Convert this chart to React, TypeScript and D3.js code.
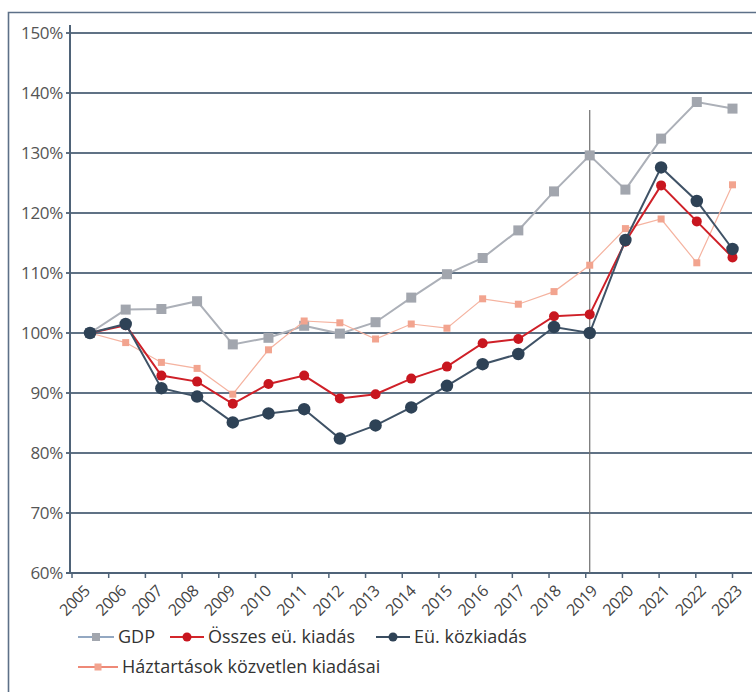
import React from "react";
import * as d3 from "d3";

const years = [2005, 2006, 2007, 2008, 2009, 2010, 2011, 2012, 2013, 2014, 2015, 2016, 2017, 2018, 2019, 2020, 2021, 2022, 2023];
const gdp = [100, 103.9, 104.0, 105.3, 98.1, 99.2, 101.2, 99.9, 101.8, 105.9, 109.8, 112.5, 117.1, 123.6, 129.6, 123.9, 132.4, 138.5, 137.4];
const osszes = [100, 101.3, 92.9, 91.9, 88.2, 91.5, 92.9, 89.1, 89.8, 92.4, 94.4, 98.3, 99.0, 102.8, 103.1, 115.2, 124.6, 118.6, 112.6];
const kozkiadas = [100, 101.5, 90.8, 89.4, 85.1, 86.6, 87.3, 82.4, 84.6, 87.6, 91.2, 94.8, 96.5, 101.0, 100.0, 115.5, 127.6, 122.0, 114.0];
const haztartasok = [100, 98.4, 95.1, 94.1, 89.8, 97.2, 102.0, 101.7, 99.0, 101.5, 100.8, 105.7, 104.8, 106.9, 111.3, 117.4, 119.0, 111.7, 124.7];
const yTicks = [60, 70, 80, 90, 100, 110, 120, 130, 140, 150];
const markerYear = 2019;

const FONT = "'Open Sans', sans-serif";
const AXIS = "#4f6378";

type Series = {
  name: string;
  values: number[];
  line: string;
  width: number;
  marker: "square" | "circle";
  fill: string;
  size: number;
  legendLine: string;
};

const series: Series[] = [
  { name: "GDP", values: gdp, line: "#acb0b8", width: 2, marker: "square", fill: "#a2a6ae", size: 10, legendLine: "#93a8c2" },
  { name: "Háztartások közvetlen kiadásai", values: haztartasok, line: "#f5b3a0", width: 1.2, marker: "square", fill: "#f2a48f", size: 7, legendLine: "#e8624a" },
  { name: "Összes eü. kiadás", values: osszes, line: "#cf2028", width: 2, marker: "circle", fill: "#c8161f", size: 10, legendLine: "#d4262b" },
  { name: "Eü. közkiadás", values: kozkiadas, line: "#3f5266", width: 2, marker: "circle", fill: "#2e4256", size: 12.5, legendLine: "#3a4d61" },
];

export default function App() {
  const W = 756;
  const H = 692;
  const x = d3.scalePoint<number>().domain(years).range([90, 732.5]);
  const xTick = d3.scalePoint<number>().domain(years).range([72, 732.5]);
  const xLabel = d3.scalePoint<number>().domain(years).range([88, 740]);
  const y = d3.scaleLinear().domain([60, 150]).range([573, 33]);
  const axisY = y(60);

  const line = (vals: number[]) =>
    d3
      .line<number>()
      .x((_, i) => x(years[i]) as number)
      .y((v) => y(v))(vals) as string;

  const marker = (s: Series, cx: number, cy: number, key: string | number) =>
    s.marker === "square" ? (
      <rect key={key} x={cx - s.size / 2} y={cy - s.size / 2} width={s.size} height={s.size} fill={s.fill} />
    ) : (
      <circle key={key} cx={cx} cy={cy} r={s.size / 2} fill={s.fill} />
    );

  const legendItems = [
    { s: series[0], lx: 78, ly: 637, tx: 118 },
    { s: series[2], lx: 170, ly: 637, tx: 208 },
    { s: series[3], lx: 376, ly: 637, tx: 414 },
    { s: series[1], lx: 78, ly: 667, tx: 122 },
  ];

  return (
    <svg width={W} height={H} style={{ display: "block", position: "absolute", left: 0, top: 0 }}>
      <rect x={0} y={0} width={W} height={H} fill="#fff" />
      {/* frame */}
      <path d={`M8.5,${H} V12.5 H${W}`} fill="none" stroke="#5d7088" strokeWidth={1.6} />

      {/* horizontal grid */}
      {yTicks.map((t) => (
        <g key={t}>
          <line x1={66} x2={752} y1={y(t)} y2={y(t)} stroke={AXIS} strokeWidth={t === 60 ? 2 : 1.8} opacity={t === 60 ? 1 : 0.9} />
          <text x={63} y={y(t)} dy="0.36em" textAnchor="end" fontFamily={FONT} fontSize={17} fill="#555" letterSpacing={-0.3}>
            {t}%
          </text>
        </g>
      ))}
      {/* y axis */}
      <line x1={70} x2={70} y1={25} y2={axisY} stroke={AXIS} strokeWidth={2} />

      {/* x ticks and labels */}
      {years.map((yr) => (
        <g key={yr}>
          <line x1={xTick(yr)} x2={xTick(yr)} y1={axisY} y2={axisY + 5} stroke={AXIS} strokeWidth={1.5} />
          <text
            transform={`translate(${xLabel(yr)! - 1},${axisY + 15}) rotate(-45)`}
            textAnchor="end"
            dy="0.35em"
            fontFamily={FONT}
            fontSize={16}
            fill="#444"
            letterSpacing={-0.4}
          >
            {yr}
          </text>
        </g>
      ))}

      {/* reference year marker */}
      <line x1={x(markerYear)} x2={x(markerYear)} y1={110} y2={axisY} stroke="#6f6f6f" strokeWidth={1.2} />

      {/* series */}
      {series.map((s) => (
        <g key={s.name}>
          <path d={line(s.values)} fill="none" stroke={s.line} strokeWidth={s.width} />
          {s.values.map((v, i) => marker(s, x(years[i]) as number, y(v), i))}
        </g>
      ))}

      {/* legend */}
      {legendItems.map(({ s, lx, ly, tx }) => (
        <g key={s.name}>
          <line x1={lx} x2={tx - 4} y1={ly} y2={ly} stroke={s.legendLine} strokeWidth={s.name.startsWith("H") ? 1.5 : 2} />
          {marker({ ...s, size: s.marker === "square" ? Math.min(s.size, 8) : Math.min(s.size, 9) }, (lx + tx - 4) / 2, ly, "m")}
          <text x={tx} y={ly} dy="0.36em" fontFamily={FONT} fontSize={18} fill="#333">
            {s.name}
          </text>
        </g>
      ))}
    </svg>
  );
}
